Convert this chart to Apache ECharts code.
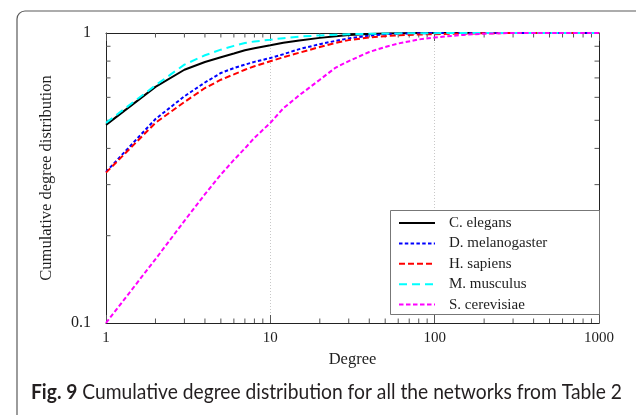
<!DOCTYPE html>
<html>
<head>
<meta charset="utf-8">
<script src="https://cdn.jsdelivr.net/npm/echarts@6/dist/echarts.min.js"></script>
<style>
  html, body { margin: 0; padding: 0; background: #fff; }
  #chart { width: 636px; height: 415px; }
</style>
</head>
<body>
<div id="chart"></div>
<script>
// Degree values at which each cumulative distribution is sampled
const degrees = [1, 2, 3, 4, 5, 6, 7, 8, 10, 12, 15, 20, 25, 30, 40, 50, 60, 80, 100, 150, 200, 300, 500, 1000];

// Cumulative degree distribution per network
const cElegans      = [0.482, 0.652, 0.747, 0.794, 0.825, 0.850, 0.872, 0.886, 0.907, 0.925, 0.942, 0.962, 0.975, 0.985, 0.993, 0.997, 0.999, 1, 1, 1, 1, 1, 1, 1];
const dMelanogaster = [0.332, 0.505, 0.605, 0.675, 0.728, 0.757, 0.778, 0.795, 0.820, 0.845, 0.880, 0.915, 0.940, 0.958, 0.980, 0.990, 0.995, 0.998, 1, 1, 1, 1, 1, 1];
const hSapiens      = [0.330, 0.490, 0.578, 0.646, 0.690, 0.720, 0.747, 0.768, 0.799, 0.825, 0.855, 0.895, 0.925, 0.945, 0.965, 0.975, 0.982, 0.988, 0.991, 0.995, 0.998, 1, 1, 1];
const mMusculus     = [0.490, 0.660, 0.778, 0.838, 0.876, 0.903, 0.924, 0.935, 0.948, 0.960, 0.972, 0.981, 0.986, 0.990, 0.994, 0.996, 0.997, 0.998, 0.999, 1, 1, 1, 1, 1];
const sCerevisiae   = [0.100, 0.166, 0.225, 0.278, 0.325, 0.365, 0.400, 0.435, 0.490, 0.550, 0.610, 0.690, 0.760, 0.800, 0.860, 0.895, 0.920, 0.950, 0.965, 0.985, 0.995, 1, 1, 1];

const seriesNames = ['C. elegans', 'D. melanogaster', 'H. sapiens', 'M. musculus', 'S. cerevisiae'];

// Tick labels and minor tick positions of the log axes
const xTickLabels = ['1', '10', '100', '1000'];
const yTickLabels = ['0.1', '1'];
const xMinorTicks = [2, 3, 4, 5, 6, 7, 8, 9, 20, 30, 40, 50, 60, 70, 80, 90, 200, 300, 400, 500, 600, 700, 800, 900];
const yMinorTicks = [0.2, 0.3, 0.4, 0.5, 0.6, 0.7, 0.8, 0.9];

const SERIF = '"Liberation Serif", "DejaVu Serif", serif';
const TEXT_COLOR = '#1e1e1e';
const TICK_COLOR = '#555';

const chart = echarts.init(document.getElementById('chart'), null, { renderer: 'canvas' });

function pairs(values) {
  return degrees.map((d, i) => [d, values[i]]);
}

function lineSeries(name, values, color, dash) {
  return {
    name: name,
    type: 'line',
    data: pairs(values),
    showSymbol: false,
    symbol: 'none',
    smooth: false,
    lineStyle: { color: color, width: 2, type: dash || 'solid' },
    itemStyle: { color: color },
    emphasis: { disabled: true },
    z: 3
  };
}

// Minor ticks drawn inward on both opposite edges of the plot
const minorXTicks = {
  type: 'custom',
  silent: true,
  data: xMinorTicks.map(v => [v, 1]),
  clip: false,
  z: 2,
  renderItem(params, api) {
    const cs = params.coordSys;
    const x = api.coord([api.value(0), 1])[0];
    const top = cs.y, bottom = cs.y + cs.height;
    const st = { stroke: TICK_COLOR, lineWidth: 1 };
    return {
      type: 'group',
      children: [
        { type: 'line', shape: { x1: x, y1: bottom, x2: x, y2: bottom - 4.5 }, style: st },
        { type: 'line', shape: { x1: x, y1: top, x2: x, y2: top + 4.5 }, style: st }
      ]
    };
  }
};

const minorYTicks = {
  type: 'custom',
  silent: true,
  data: yMinorTicks.map(v => [1, v]),
  clip: false,
  z: 2,
  renderItem(params, api) {
    const cs = params.coordSys;
    const y = api.coord([1, api.value(1)])[1];
    const left = cs.x, right = cs.x + cs.width;
    const st = { stroke: TICK_COLOR, lineWidth: 1 };
    return {
      type: 'group',
      children: [
        { type: 'line', shape: { x1: left, y1: y, x2: left + 4.5, y2: y }, style: st },
        { type: 'line', shape: { x1: right, y1: y, x2: right - 4.5, y2: y }, style: st }
      ]
    };
  }
};

// Caption below the chart, squeezed to the width of the frame
const captionBold = 'Fig. 9';
const captionText = ' Cumulative degree distribution for all the networks from Table 2';
const CAPTION_FONT = '"Lato", "Open Sans", sans-serif';
const CAPTION_SIZE = 20.5;
const measureCtx = document.createElement('canvas').getContext('2d');
measureCtx.font = 'bold ' + CAPTION_SIZE + 'px ' + CAPTION_FONT;
let capWidth = measureCtx.measureText(captionBold).width;
measureCtx.font = CAPTION_SIZE + 'px ' + CAPTION_FONT;
capWidth += measureCtx.measureText(captionText).width;
const capScale = Math.min(1, 591 / capWidth);

const option = {
  animation: false,
  backgroundColor: '#fff',
  grid: { left: 106, top: 33, width: 493, height: 290, containLabel: false },
  legend: {
    data: seriesNames,
    orient: 'vertical',
    left: 398,
    top: 215.5,
    padding: 0,
    itemWidth: 36,
    itemHeight: 14,
    itemGap: 5.4,
    selectedMode: false,
    itemStyle: { opacity: 0, borderWidth: 0 },
    textStyle: { fontFamily: SERIF, fontSize: 15, color: TEXT_COLOR, padding: [0, 0, 0, 9] },
    z: 10
  },
  xAxis: [
    {
      type: 'log',
      logBase: 10,
      min: 1,
      max: 1000,
      position: 'bottom',
      name: 'Degree',
      nameLocation: 'middle',
      nameGap: 27,
      nameTextStyle: { fontFamily: SERIF, fontSize: 16.5, color: TEXT_COLOR },
      axisLine: { show: true, onZero: false, lineStyle: { color: '#222', width: 1 } },
      axisTick: { show: true, inside: true, length: 8, lineStyle: { color: TICK_COLOR } },
      axisLabel: {
        fontFamily: SERIF, fontSize: 15, color: TEXT_COLOR, margin: 8,
        formatter: v => xTickLabels.find(t => Number(t) === Math.round(v)) || ''
      },
      splitLine: { show: true, lineStyle: { color: '#c8c8c8', type: [1, 2], width: 1 } },
      minorTick: { show: false },
      minorSplitLine: { show: false }
    },
    {
      type: 'log',
      logBase: 10,
      min: 1,
      max: 1000,
      position: 'top',
      axisLine: { show: true, onZero: false, lineStyle: { color: '#222', width: 1 } },
      axisTick: { show: true, inside: true, length: 8, lineStyle: { color: TICK_COLOR } },
      axisLabel: { show: false },
      splitLine: { show: false }
    }
  ],
  yAxis: [
    {
      type: 'log',
      logBase: 10,
      min: 0.1,
      max: 1,
      position: 'left',
      name: 'Cumulative degree distribution',
      nameLocation: 'middle',
      nameGap: 51,
      nameRotate: 90,
      nameTextStyle: { fontFamily: SERIF, fontSize: 16.5, color: TEXT_COLOR },
      axisLine: { show: true, onZero: false, lineStyle: { color: '#222', width: 1 } },
      axisTick: { show: false },
      axisLabel: {
        fontFamily: SERIF, fontSize: 16, color: TEXT_COLOR, margin: 15,
        formatter: v => yTickLabels.find(t => Math.abs(Number(t) - v) < 1e-6) || ''
      },
      splitLine: { show: false }
    },
    {
      type: 'log',
      logBase: 10,
      min: 0.1,
      max: 1,
      position: 'right',
      axisLine: { show: true, onZero: false, lineStyle: { color: '#222', width: 1 } },
      axisTick: { show: false },
      axisLabel: { show: false },
      splitLine: { show: false }
    }
  ],
  graphic: [
    {
      type: 'rect',
      left: 14.5,
      top: 8.5,
      shape: { x: 0, y: 0, width: 640, height: 520, r: 8 },
      style: { fill: 'none', stroke: '#5a5a5a', lineWidth: 1.2 },
      silent: true,
      z: -1
    },
    {
      // legend frame
      type: 'rect',
      left: 390,
      top: 210,
      shape: { x: 0, y: 0, width: 209, height: 104 },
      style: { fill: '#fff', stroke: '#777', lineWidth: 1 },
      silent: true,
      z: 5
    },
    {
      type: 'text',
      left: 31,
      top: 382,
      scaleX: capScale,
      silent: true,
      style: {
        text: '{b|' + captionBold + '}{n|' + captionText + '}',
        rich: {
          b: { fontFamily: CAPTION_FONT, fontSize: CAPTION_SIZE, fontWeight: 'bold', fill: '#231f20' },
          n: { fontFamily: CAPTION_FONT, fontSize: CAPTION_SIZE, fill: '#231f20' }
        }
      }
    }
  ],
  series: [
    lineSeries(seriesNames[0], cElegans, '#000000', 'solid'),
    lineSeries(seriesNames[1], dMelanogaster, '#0000ff', [3.5, 2.3]),
    lineSeries(seriesNames[2], hSapiens, '#ff0000', [6, 3]),
    lineSeries(seriesNames[3], mMusculus, '#00ffff', [8, 5]),
    lineSeries(seriesNames[4], sCerevisiae, '#ff00ff', [4.5, 2.5]),
    minorXTicks,
    minorYTicks
  ]
};

chart.setOption(option);
</script>
</body>
</html>
